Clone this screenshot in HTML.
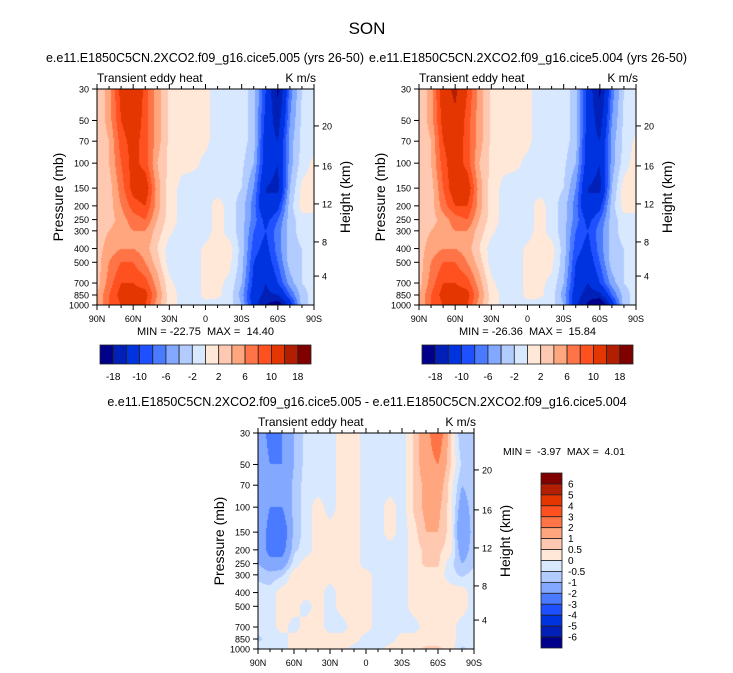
<!DOCTYPE html>
<html><head><meta charset="utf-8"><style>
body{margin:0;background:#fff;}
#root{position:relative;width:733px;height:673px;overflow:hidden;background:#fff;font-family:"Liberation Sans",sans-serif;}
canvas{position:absolute;}
svg{position:absolute;left:0;top:0;}
svg text{white-space:pre;}
</style></head><body>
<div id="root">
<canvas id="c1" width="217" height="216" style="left:97px;top:89px"></canvas>
<canvas id="c2" width="217" height="216" style="left:419px;top:89px"></canvas>
<canvas id="c3" width="216" height="216" style="left:258px;top:433px"></canvas>
<svg id="ov" width="733" height="673"></svg>
</div>
<script>
const lats=[90,80,70,60,50,40,30,20,10,0,-10,-20,-30,-40,-50,-60,-70,-80,-90];
const plev=[30,50,70,100,150,200,250,300,400,500,700,850,1000];
const pTicks=[30,50,70,100,150,200,250,300,400,500,700,850,1000];
const latTicks=[90,60,30,0,-30,-60,-90];
const latTickLabels=["90N","60N","30N","0","30S","60S","90S"];
const kmTicks=[4,8,12,16,20];
const kmTickFrac=[0.866,0.708,0.532,0.356,0.171];
const colors=["#00008a","#0020b8","#0033e0","#1f50ff","#4a7aff","#82a8ff","#b2ccff","#d8e8ff","#ffe8d8","#ffc8b0","#ffa67e","#ff7446","#ff5020","#e43600","#b41e00","#800000"];
const levels1=[-18,-14,-10,-8,-6,-4,-2,0,2,4,6,8,10,14,18];
const levels1Labels=["-18","","-10","","-6","","-2","","2","","6","","10","","18"];
const levels3=[-6,-5,-4,-3,-2,-1,-0.5,0,0.5,1,2,3,4,5,6];
const data1=[
[2,5,11,14,9,5,1.5,1,1,0.5,-1,-1,-1,-3,-10,-19,-7,-2,-1],
[2,5,10,12,9,5,1.5,1,1,0.5,-1,-1,-1,-3,-11,-16,-6,-1.5,-1],
[2,4,9,11,9,5,1.5,1,0.5,0.5,-1,-1,-1,-3,-12,-14,-5,-1.5,-1],
[2,4,8,11,9,4,1.5,0.5,0.5,-0.5,-1,-1,-1.5,-4,-12,-14,-5,-1,0.5],
[2,3,7,11,12,5,1,-0.5,-1,-1,-1,-1,-2,-6,-14,-15,-4,0.5,1],
[2,3,6,9,10,5,1,-0.5,-1,-1,1,-1,-3,-7,-14,-11,-3,1,1],
[2,3,5,7,8,4,1,-0.5,-1,-1,1,-1,-3,-7,-11,-8,-3,-1,-1],
[3,4,5,6,6,3,0.5,-1,-1,-1,1,-1,-3,-8,-10,-7,-3,-1,-1],
[3,5,6,6,5,2,-1,-1,-1,0.5,1,1,-3,-9,-11,-7,-3,-2,-1],
[3,6,8,8,6,3,-1,-1,-1,0.5,1,0.5,-3,-10,-12,-8,-3,-2,-1],
[3,7,10,10,9,5,0.5,-1,-1,0.5,0.5,-0.5,-4,-11,-14,-10,-5,-2,-1],
[4,8,11,11,11,6,1,-0.5,-1,0.5,0.5,-1,-5,-12,-15,-14,-8,-3,-1],
[4,8,10,10,10,5,1,-0.5,-1,-0.5,-1,-1,-4,-12,-18,-21,-12,-3,-1]];
const data2=[
[2,5,12,15,10,5,1.5,1,1,0.5,-1,-1,-1,-3,-11,-19,-7,-2,-1],
[2,5,11,13,9,5,1.5,1,1,0.5,-1,-1,-1,-3,-11,-16,-6,-1.5,-1],
[2,4,10,12,9,5,1.5,1,0.5,0.5,-1,-1,-1,-3,-12,-14,-5,-1.5,0.5],
[2,4,9,12,9,4,1.5,0.5,0.5,-0.5,-1,-1,-1.5,-4,-12,-14,-5,-1,1],
[2,3,8,12,12,5,1,-0.5,-1,-1,-1,-1,-2,-6,-14,-15,-4,1,1],
[2,3,7,10,10,5,1,-0.5,-1,-1,1,-1,-3,-7,-14,-11,-3,1,1],
[2,3,5,7,8,4,1,-0.5,-1,-1,1,-1,-3,-7,-11,-8,-3,-1,-1],
[3,4,5,6,6,3,0.5,-1,-1,-1,1,-1,-3,-8,-10,-7,-3,-1,-1],
[3,5,6,6,5,2,-1,-1,-1,0.5,1,1,-3,-9,-11,-7,-3,-2,-1],
[3,6,8,8,6,3,-1,-1,-1,0.5,1,0.5,-3,-10,-12,-8,-3,-2,-1],
[3,7,10,10,9,5,0.5,-1,-1,0.5,0.5,-0.5,-4,-11,-14,-10,-5,-2,-1],
[4,8,11,11,11,6,1,-0.5,-1,0.5,0.5,-1,-5,-12,-16,-15,-8,-3,-1],
[4,8,10,10,10,5,1,-0.5,-1,-0.5,-1,-1,-4,-13,-19,-24,-12,-3,-1]];
const data3=[
[-1,-2.5,-2,-1,-0.3,-0.3,-0.3,0.3,0.3,-0.3,-0.3,-0.3,-0.3,0.6,1.5,3,0.6,-1,-0.6],
[-1,-2,-2,-1,-0.3,-0.3,-0.3,0.3,0.3,-0.3,-0.3,-0.3,-0.3,0.6,1.5,2,0.6,-0.6,-0.6],
[-1,-2,-2,-0.8,-0.3,-0.3,-0.3,0.3,0.3,-0.3,-0.3,-0.3,-0.3,0.6,1.2,1.5,0.3,-1,-0.6],
[-1,-2,-2,-0.8,-0.3,0.3,-0.3,0.3,0.3,-0.3,-0.3,0.3,-0.3,0.6,1.2,1.2,0.3,-1.5,-0.6],
[-1,-2.5,-3,-0.8,-0.3,0.3,0.3,0.3,0.3,-0.3,-0.3,0.3,-0.3,0.3,1,1,0.3,-2,-0.6],
[-1,-2.5,-2.5,-0.6,-0.3,0.3,0.3,0.3,0.3,-0.3,-0.3,-0.3,-0.3,0.3,0.6,0.6,0.3,-1.5,-0.6],
[-1,-1.5,-1.5,-0.3,0.3,0.3,0.3,0.3,0.3,-0.3,-0.3,-0.3,-0.3,0.3,0.6,0.6,-0.3,-1,-0.6],
[-0.6,-0.8,-0.6,0.3,0.3,0.3,0.3,0.3,0.3,0.3,-0.3,-0.3,-0.3,0.3,0.3,0.3,-0.3,-0.6,-0.3],
[-0.3,-0.3,0.3,0.3,0.3,0.3,-0.3,0.3,0.3,0.3,-0.3,-0.3,-0.3,0.3,0.3,0.3,0.3,0.3,-0.3],
[-0.3,-0.3,0.3,0.3,-0.3,0.3,-0.3,0.3,0.3,0.3,-0.3,-0.3,-0.3,0.3,0.3,0.3,0.3,0.3,-0.3],
[-0.3,-0.3,0.3,-0.3,0.3,0.3,-0.3,-0.3,0.3,0.3,-0.3,-0.3,-0.3,-0.3,0.3,0.3,0.3,-0.3,-0.3],
[-0.6,-0.3,-0.3,0.3,0.3,0.3,0.3,0.3,0.3,-0.3,-0.3,-0.3,0.3,0.3,0.3,0.3,0.3,-0.3,-0.3],
[-0.3,-0.3,-0.3,0.3,0.3,0.3,0.3,0.3,-0.3,-0.3,-0.3,0.3,0.3,0.3,0.6,0.6,0.3,-0.6,-0.3]];

const NS='http://www.w3.org/2000/svg';
const ov=document.getElementById('ov');
function el(tag,attrs,txt){const e=document.createElementNS(NS,tag);for(const k in attrs)e.setAttribute(k,attrs[k]);if(txt!==undefined)e.textContent=txt;ov.appendChild(e);return e;}
function pFrac(p){return (Math.log(p)-Math.log(30))/(Math.log(1000)-Math.log(30));}
function latFrac(l){return (90-l)/180;}
function colorFor(v,lv){let i=0;while(i<lv.length&&v>=lv[i])i++;return colors[i];}
function fill(id,data,lv){
  const c=document.getElementById(id),ctx=c.getContext('2d'),W=c.width,H=c.height;
  const lp=plev.map(p=>pFrac(p));
  for(let py=0;py<H;py+=1){
    const f=(py+0.5)/H;
    let j=0;while(j<lp.length-2&&f>lp[j+1])j++;
    const ty=Math.min(1,Math.max(0,(f-lp[j])/(lp[j+1]-lp[j])));
    for(let px=0;px<W;px+=1){
      const gx=(px+0.5)/W*(lats.length-1);
      const i=Math.min(lats.length-2,Math.floor(gx)),tx=gx-i;
      const v=(data[j][i]*(1-tx)+data[j][i+1]*tx)*(1-ty)+(data[j+1][i]*(1-tx)+data[j+1][i+1]*tx)*ty;
      ctx.fillStyle=colorFor(v,lv);ctx.fillRect(px,py,1,1);
    }
  }
}
fill('c1',data1,levels1);fill('c2',data2,levels1);fill('c3',data3,levels3);

function axes(P,tag,minmax){
  const {x,y,w,h}=P;
  let r=el('rect',{x:x,y:y,width:w,height:h,fill:'none',stroke:'#000','stroke-width':1});
  
  for(let l=90;l>=-90;l-=10){
    const X=x+latFrac(l)*w, major=(l%30===0);
    const L=major?5:3;
    el('line',{x1:X,y1:y+h,x2:X,y2:y+h+L,stroke:'#000'});
    el('line',{x1:X,y1:y,x2:X,y2:y-L,stroke:'#000'});
  }
  latTicks.forEach((l,k)=>{const t=el('text',{x:x+latFrac(l)*w,y:y+h+17,'font-size':9,'text-anchor':'middle'},latTickLabels[k]);
    });
  pTicks.forEach(p=>{const Y=y+pFrac(p)*h;el('line',{x1:x-5,y1:Y,x2:x,y2:Y,stroke:'#000'});
    const t=el('text',{x:x-8,y:Y+3.5,'font-size':9,'text-anchor':'end'},String(p));
    });
  kmTicks.forEach((k,i)=>{const Y=y+kmTickFrac[i]*h;el('line',{x1:x+w,y1:Y,x2:x+w+5,y2:Y,stroke:'#000'});
    const t=el('text',{x:x+w+8,y:Y+3.5,'font-size':9},String(k));
    });
  let t=el('text',{x:0,y:0,'font-size':14,'text-anchor':'middle',transform:`translate(${x-34},${y+h/2}) rotate(-90)`},'Pressure (mb)');
  
  t=el('text',{x:0,y:0,'font-size':14,'text-anchor':'middle',transform:`translate(${x+w+36},${y+h/2}) rotate(-90)`},'Height (km)');
  
  t=el('text',{x:x,y:y-7,'font-size':12},'Transient eddy heat');
  
  t=el('text',{x:x+w+2,y:y-7,'font-size':12,'text-anchor':'end'},'K m/s');
  
  if(minmax){t=el('text',{x:x+w/2,y:y+h+30,'font-size':11,'text-anchor':'middle'},minmax);
  }
}
axes({x:97,y:89,w:217,h:216},'panel1','MIN = -22.75  MAX =  14.40');
axes({x:419,y:89,w:217,h:216},'panel2','MIN = -26.36  MAX =  15.84');
axes({x:258,y:433,w:216,h:216},'panel3',null);

function hbar(x0,tag){
  const bw=211/16;
  colors.forEach((c,i)=>{const r=el('rect',{x:x0+i*bw,y:345,width:bw,height:19,fill:c,stroke:'#222','stroke-width':0.8});
    });
  levels1Labels.forEach((s,i)=>{if(!s)return;const t=el('text',{x:x0+(i+1)*bw,y:380,'font-size':10,'text-anchor':'middle'},s);
    });
}
hbar(100,'colorbar1');hbar(422,'colorbar2');
(function(){
  const x0=541,y0=473,bh=175/16;
  colors.slice().reverse().forEach((c,i)=>{const r=el('rect',{x:x0,y:y0+i*bh,width:21,height:bh,fill:c,stroke:'#222','stroke-width':0.8});
    });
  levels3.slice().reverse().forEach((v,i)=>{const t=el('text',{x:x0+27,y:y0+(i+1)*bh+3.5,'font-size':10},String(v));
    });
})();
let t=el('text',{x:367,y:34,'font-size':17,'text-anchor':'middle'},'SON');

t=el('text',{x:205,y:62,'font-size':12.5,'text-anchor':'middle'},'e.e11.E1850C5CN.2XCO2.f09_g16.cice5.005 (yrs 26-50)');

t=el('text',{x:528,y:62,'font-size':12.5,'text-anchor':'middle'},'e.e11.E1850C5CN.2XCO2.f09_g16.cice5.004 (yrs 26-50)');

t=el('text',{x:367,y:406,'font-size':12.5,'text-anchor':'middle'},'e.e11.E1850C5CN.2XCO2.f09_g16.cice5.005 - e.e11.E1850C5CN.2XCO2.f09_g16.cice5.004');

t=el('text',{x:503,y:455,'font-size':10.5},'MIN =  -3.97  MAX =  4.01');

</script>
</body></html>
